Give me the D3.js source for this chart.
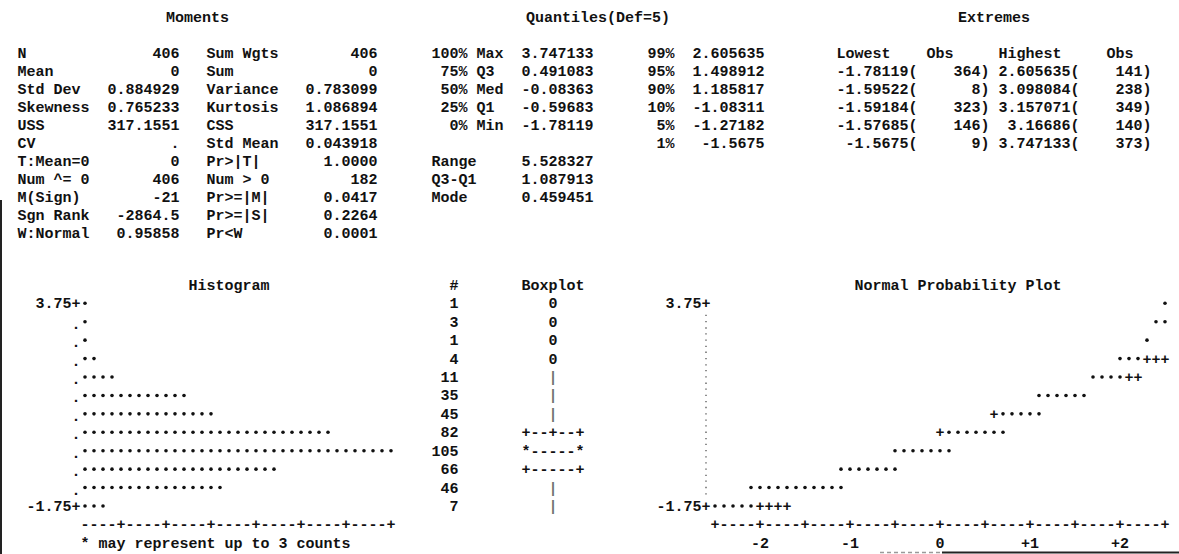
<!DOCTYPE html>
<html>
<head>
<meta charset="utf-8">
<script src="https://cdn.jsdelivr.net/npm/d3@7"></script>
<style>
  body { margin: 0; background: #fff; }
  svg text { font-family: "Liberation Mono", "DejaVu Sans Mono", monospace; font-weight: bold; fill: #111; font-size: 15px; }
</style>
</head>
<body>
<svg id="chart" width="1179" height="554"></svg>
<script>
// ---------- Moments ----------
const momentLabels  = ["N", "Mean", "Std Dev", "Skewness", "USS", "CV", "T:Mean=0", "Num ^= 0", "M(Sign)", "Sgn Rank", "W:Normal"];
const momentValues  = ["406", "0", "0.884929", "0.765233", "317.1551", ".", "0", "406", "-21", "-2864.5", "0.95858"];
const momentLabels2 = ["Sum Wgts", "Sum", "Variance", "Kurtosis", "CSS", "Std Mean", "Pr>|T|", "Num > 0", "Pr>=|M|", "Pr>=|S|", "Pr<W"];
const momentValues2 = ["406", "0", "0.783099", "1.086894", "317.1551", "0.043918", "1.0000", "182", "0.0417", "0.2264", "0.0001"];

// ---------- Quantiles (Def=5) ----------
const quantilePct    = ["100%", "75%", "50%", "25%", "0%"];
const quantileName   = ["Max", "Q3", "Med", "Q1", "Min"];
const quantileValues = ["3.747133", "0.491083", "-0.08363", "-0.59683", "-1.78119"];
const quantilePct2    = ["99%", "95%", "90%", "10%", "5%", "1%"];
const quantileValues2 = ["2.605635", "1.498912", "1.185817", "-1.08311", "-1.27182", "-1.5675"];
const spreadLabels = ["Range", "Q3-Q1", "Mode"];
const spreadValues = ["5.528327", "1.087913", "0.459451"];

// ---------- Extremes ----------
const lowestValues  = ["-1.78119", "-1.59522", "-1.59184", "-1.57685", "-1.5675"];
const lowestObs     = [364, 8, 323, 146, 9];
const highestValues = ["2.605635", "3.098084", "3.157071", "3.16686", "3.747133"];
const highestObs    = [141, 238, 349, 140, 373];

// ---------- Histogram / boxplot ----------
const binMidpoints  = [3.75, 3.25, 2.75, 2.25, 1.75, 1.25, 0.75, 0.25, -0.25, -0.75, -1.25, -1.75];
const binCounts     = [1, 3, 1, 4, 11, 35, 45, 82, 105, 66, 46, 7];
const countsPerStar = 3;
const boxplotGlyphs = ["0", "0", "0", "0", "|", "|", "|", "+--+--+", "*-----*", "+-----+", "|", "|"];

// ---------- Normal probability plot: normal quantiles of the points in each row ----------
const probQuantiles = [
  [2.5],
  [2.4, 2.5],
  [2.3],
  [2.0, 2.1, 2.2],
  [1.7, 1.8, 1.9, 2.0],
  [1.1, 1.2, 1.3, 1.4, 1.5, 1.6],
  [0.7, 0.8, 0.9, 1.0, 1.1],
  [0.1, 0.2, 0.3, 0.4, 0.5, 0.6, 0.7],
  [-0.5, -0.4, -0.3, -0.2, -0.1, 0.0, 0.1],
  [-1.1, -1.0, -0.9, -0.8, -0.7, -0.6, -0.5],
  [-2.1, -2.0, -1.9, -1.8, -1.7, -1.6, -1.5, -1.4, -1.3, -1.2, -1.1],
  [-2.5, -2.4, -2.3, -2.2, -2.1]
];
const probTickLabels = ["-2", "-1", "0", "+1", "+2"];
const probTickValues = [-2, -1, 0, 1, 2];
const refMean = 0, refStd = 0.884929;

// ---------- character grid of the listing ----------
const cw = 9;          // cell width
const x0 = 17.5;       // left edge of column 0
const colL = c => x0 + c * cw;          // left edge of a column
const colC = c => x0 + (c + 0.5) * cw;  // centre of a column
const base = 5;        // baseline offset from a row's centre

const svg = d3.select("#chart");
svg.append("rect").attr("width", 1179).attr("height", 554).attr("fill", "#fff");

// ================= top tables =================
const topRow = d3.scaleLinear().domain([0, 1]).range([53, 71]);
const tables = svg.append("g");

function column(values, col, anchor, firstRow) {
  tables.append("g").selectAll("text").data(values).join("text")
    .attr("x", colL(col))
    .attr("y", (d, i) => topRow(i + firstRow) + base)
    .attr("text-anchor", anchor)
    .text(d => d);
}
const titleY = topRow(-2) + base;
tables.append("text").attr("x", colL(20)).attr("y", titleY).attr("text-anchor", "middle").text("Moments");
tables.append("text").attr("x", colL(64.5)).attr("y", titleY).attr("text-anchor", "middle").text("Quantiles(Def=5)");
tables.append("text").attr("x", colL(108.5)).attr("y", titleY).attr("text-anchor", "middle").text("Extremes");

column(momentLabels, 0, "start", 0);
column(momentValues, 18, "end", 0);
column(momentLabels2, 21, "start", 0);
column(momentValues2, 40, "end", 0);

column(quantilePct, 50, "end", 0);
column(quantileName, 51, "start", 0);
column(quantileValues, 64, "end", 0);
column(spreadLabels, 46, "start", 6);
column(spreadValues, 64, "end", 6);
column(quantilePct2, 73, "end", 0);
column(quantileValues2, 83, "end", 0);

column(["Lowest"], 97, "end", 0);
column(["Obs"], 104, "end", 0);
column(["Highest"], 116, "end", 0);
column(["Obs"], 124, "end", 0);
column(lowestValues.map(v => v + "("), 100, "end", 1);
column(lowestObs.map(v => v + ")"), 108, "end", 1);
column(highestValues.map(v => v + "("), 118, "end", 1);
column(highestObs.map(v => v + ")"), 126, "end", 1);

// ================= plots =================
const yRow = d3.scalePoint().domain(binMidpoints).range([303.3, 506]);
const step = yRow.step();
const plotTitleY = yRow(3.75) - step + base;
const axisRowY = yRow(-1.75) + step;
const footRowY = axisRowY + step;

// ---- Histogram ----
const hist = svg.append("g");
const histAxisCol = 6;
const xStar = d3.scaleLinear().domain([0, 1]).range([colC(histAxisCol), colC(histAxisCol + 1)]);
const maxStars = d3.max(binCounts, c => Math.ceil(c / countsPerStar));

hist.append("text").attr("x", colL(19)).attr("y", plotTitleY).text("Histogram");

binMidpoints.forEach((m, i) => {
  const cy = yRow(m);
  if (i === 0 || i === binMidpoints.length - 1) {
    hist.append("text").attr("x", colL(histAxisCol)).attr("y", cy + base).attr("text-anchor", "end").text(m.toFixed(2));
    hist.append("text").attr("x", colC(histAxisCol)).attr("y", cy + base).attr("text-anchor", "middle").text("+");
  } else {
    hist.append("text").attr("x", colC(histAxisCol)).attr("y", cy + base + 2).attr("text-anchor", "middle").text(".");
  }
  const nStars = Math.ceil(binCounts[i] / countsPerStar);
  hist.append("g").selectAll("circle").data(d3.range(1, nStars + 1)).join("circle")
    .attr("cx", k => xStar(k))
    .attr("cy", cy)
    .attr("r", 1.8)
    .attr("fill", "#111");
});

hist.append("g").selectAll("text").data(d3.range(1, maxStars + 1)).join("text")
  .attr("x", k => xStar(k))
  .attr("y", axisRowY + base)
  .attr("text-anchor", "middle")
  .text(k => (k % 5 === 0 ? "+" : "-"));

hist.append("text").attr("x", colL(histAxisCol + 1)).attr("y", footRowY + base)
  .text("* may represent up to " + countsPerStar + " counts");

// ---- counts column ----
const countEdgeCol = 49;
svg.append("text").attr("x", colC(countEdgeCol - 1)).attr("y", plotTitleY).attr("text-anchor", "middle").text("#");
svg.append("g").selectAll("text").data(binCounts).join("text")
  .attr("x", colL(countEdgeCol))
  .attr("y", (d, i) => yRow(binMidpoints[i]) + base)
  .attr("text-anchor", "end")
  .text(d => d);

// ---- Boxplot ----
const boxCol = 59;
svg.append("text").attr("x", colC(boxCol)).attr("y", plotTitleY).attr("text-anchor", "middle").text("Boxplot");
svg.append("g").selectAll("text").data(boxplotGlyphs).join("text")
  .attr("x", colC(boxCol))
  .attr("y", (d, i) => yRow(binMidpoints[i]) + base)
  .attr("text-anchor", "middle")
  .attr("fill-opacity", d => d === "|" ? 0.6 : 1)
  .text(d => d);

// ---- Normal probability plot ----
const prob = svg.append("g");
const probCol0 = 77;
const xZ = d3.scaleLinear().domain([-2.5, 2.5]).range([colC(probCol0), colC(probCol0 + 50)]);
const probAxisX = colC(probCol0 - 1);

prob.append("text").attr("x", colL(93)).attr("y", plotTitleY).text("Normal Probability Plot");

// reference line (mean + std * z), shown where no data point occupies the cell
const zGrid = d3.range(0, 51).map(c => -2.5 + c * 0.1);
const lowest = binMidpoints[binMidpoints.length - 1];
const rowIndex = y => binMidpoints.length - 1 - Math.round((y - lowest) / 0.5);

binMidpoints.forEach((m, i) => {
  const cy = yRow(m);
  if (i === 0 || i === binMidpoints.length - 1) {
    prob.append("text").attr("x", colL(probCol0 - 1)).attr("y", cy + base).attr("text-anchor", "end").text(m.toFixed(2));
    prob.append("text").attr("x", probAxisX).attr("y", cy + base).attr("text-anchor", "middle").text("+");
  } else {
    prob.append("line")
      .attr("x1", probAxisX).attr("x2", probAxisX)
      .attr("y1", cy - 7).attr("y2", cy + 7)
      .attr("stroke", "#444").attr("stroke-width", 1.2)
      .attr("stroke-dasharray", "1.3,5");
  }
  const pts = probQuantiles[i];
  const taken = new Set(pts.map(z => Math.round(z * 10)));
  const refCells = zGrid.filter(z => rowIndex(refMean + refStd * z) === i && !taken.has(Math.round(z * 10)));
  prob.append("g").selectAll("text").data(refCells).join("text")
    .attr("x", z => xZ(z))
    .attr("y", cy + base)
    .attr("text-anchor", "middle")
    .text("+");
  prob.append("g").selectAll("circle").data(pts).join("circle")
    .attr("cx", z => xZ(z))
    .attr("cy", cy)
    .attr("r", 1.8)
    .attr("fill", "#111");
});

prob.append("g").selectAll("text").data(zGrid).join("text")
  .attr("x", z => xZ(z))
  .attr("y", axisRowY + base)
  .attr("text-anchor", "middle")
  .text((z, c) => (c % 5 === 0 ? "+" : "-"));

prob.append("g").selectAll("text").data(probTickValues).join("text")
  .attr("x", z => xZ(z))
  .attr("y", footRowY + base)
  .attr("text-anchor", "middle")
  .text((z, i) => probTickLabels[i]);

// page edges
svg.append("line").attr("x1", 1).attr("x2", 1).attr("y1", 200).attr("y2", 554)
  .attr("stroke", "#222").attr("stroke-width", 2);
svg.append("line").attr("x1", 880).attr("x2", 942).attr("y1", 552.5).attr("y2", 552.5)
  .attr("stroke", "#999").attr("stroke-width", 1.5).attr("stroke-dasharray", "4,3");
svg.append("line").attr("x1", 942).attr("x2", 1179).attr("y1", 552.5).attr("y2", 552.5)
  .attr("stroke", "#222").attr("stroke-width", 2);
</script>
</body>
</html>
